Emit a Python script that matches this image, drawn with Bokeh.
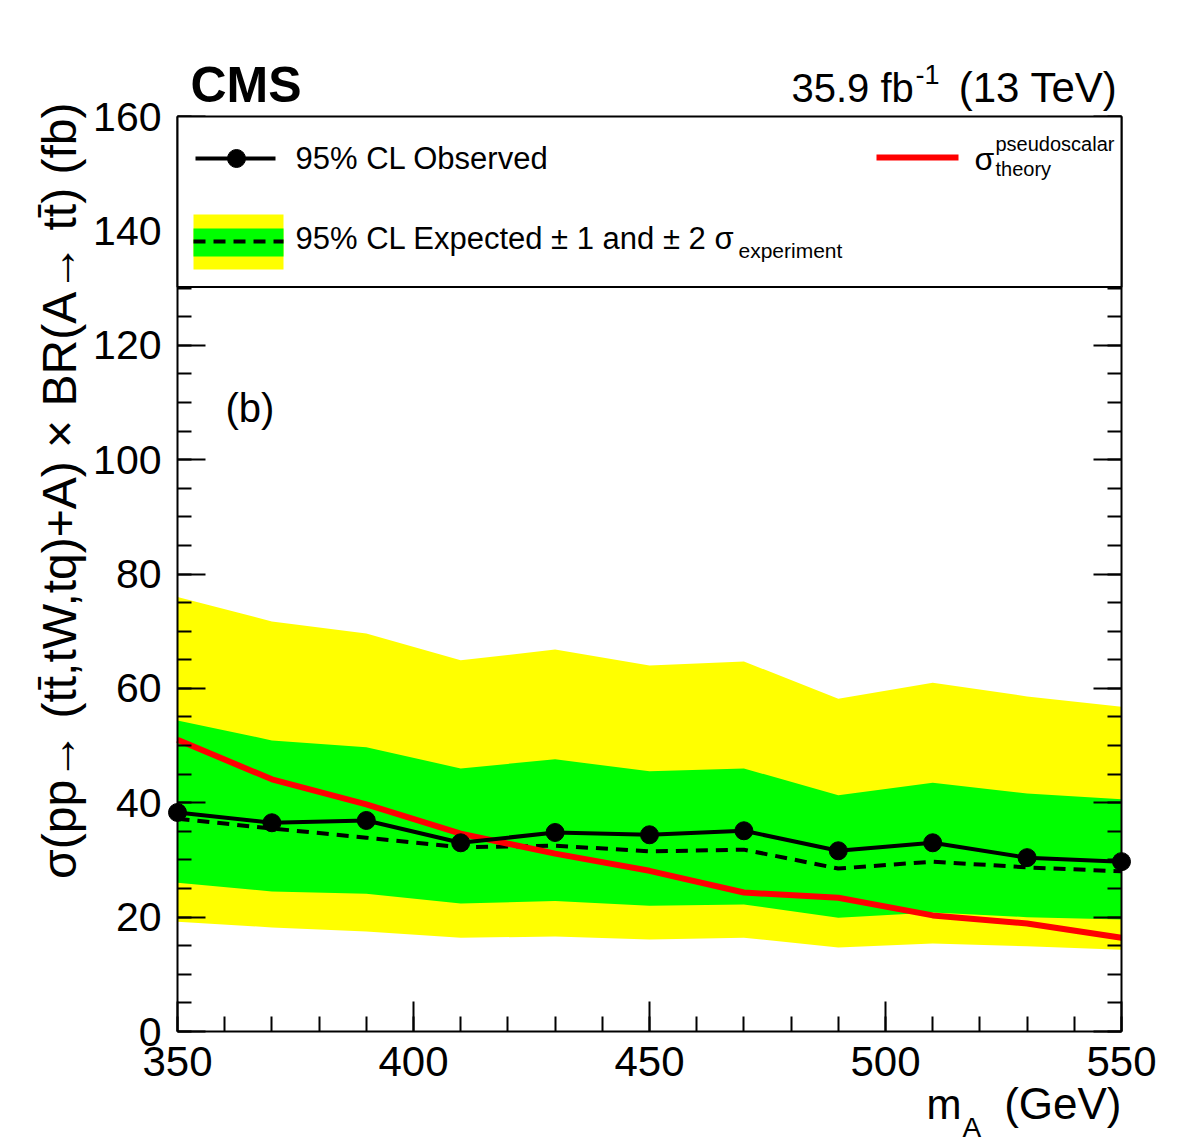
from math import pi

from bokeh.embed import file_html
from bokeh.resources import INLINE
from bokeh.plotting import figure
from bokeh.models import (BoxAnnotation, Label, LinearAxis, SingleIntervalTicker,
                          Range1d, ColumnDataSource)

# ---- limits on sigma x BR for the pseudoscalar A (fb) ----
mass = [350, 370, 390, 410, 430, 450, 470, 490, 510, 530, 550]
observed = [38.3, 36.5, 36.9, 33.0, 34.8, 34.4, 35.1, 31.6, 33.0, 30.4, 29.7]
expected = [37.2, 35.5, 33.9, 32.2, 32.5, 31.5, 31.8, 28.5, 29.7, 28.7, 28.0]
exp_m1 = [26.0, 24.5, 24.1, 22.4, 22.8, 22.0, 22.2, 19.9, 20.8, 20.0, 19.6]
exp_p1 = [54.4, 50.9, 49.7, 46.0, 47.6, 45.5, 46.0, 41.3, 43.5, 41.6, 40.6]
exp_m2 = [19.2, 18.2, 17.5, 16.4, 16.6, 16.1, 16.4, 14.7, 15.4, 14.9, 14.3]
exp_p2 = [76.0, 71.7, 69.6, 64.9, 66.8, 64.0, 64.7, 58.2, 61.0, 58.6, 56.8]
theory = [51.0, 44.1, 39.7, 34.6, 31.1, 28.1, 24.3, 23.4, 20.3, 18.9, 16.4]

X_MIN, X_MAX = 350, 550
Y_MIN, Y_MAX = 0, 160
LEGEND_FLOOR = 130.2

# canvas and the pixel box that holds the axes
W, H = 1182, 1146
BOX_L, BOX_R, BOX_T, BOX_B = 177, 1121, 116, 1031

FONT = "Liberation Sans"
YELLOW = "#ffff00"
GREEN = "#00ff00"
RED = "#ff0000"
BASELINE_SHIFT = 0.38  # em fraction to place Label text on its baseline


def fx(px):
    """Canvas pixel column -> data x."""
    return X_MIN + (px - BOX_L) * (X_MAX - X_MIN) / (BOX_R - BOX_L)


def fy(py):
    """Canvas pixel row -> data y."""
    return Y_MIN + (BOX_B - py) * (Y_MAX - Y_MIN) / (BOX_B - BOX_T)


# the frame spans the whole canvas; axes sit at fixed data locations
p = figure(width=W, height=H, output_backend="svg", toolbar_location=None,
           x_range=Range1d(fx(0), fx(W)), y_range=Range1d(fy(H), fy(0)),
           min_border=0, x_axis_location=None, y_axis_location=None)
p.grid.visible = False
p.outline_line_color = None
p.background_fill_color = "white"
p.border_fill_color = "white"

src = ColumnDataSource(dict(m=mass, obs=observed, exp=expected,
                            m1=exp_m1, p1=exp_p1, m2=exp_m2, p2=exp_p2,
                            th=theory))

# expected bands
p.varea(x="m", y1="m2", y2="p2", source=src, fill_color=YELLOW)
p.varea(x="m", y1="m1", y2="p1", source=src, fill_color=GREEN)
# expected median
p.line(x="m", y="exp", source=src, line_color="black", line_width=4,
       line_dash="12 8")
# theory
p.line(x="m", y="th", source=src, line_color=RED, line_width=6)
# observed
p.line(x="m", y="obs", source=src, line_color="black", line_width=4)
p.scatter(x="m", y="obs", source=src, size=18, marker="circle",
          fill_color="black", line_color="black")


def style_axis(ax, labels=True):
    ax.axis_line_width = 2
    ax.major_tick_line_width = 2
    ax.minor_tick_line_width = 2
    ax.major_tick_out = 0
    ax.minor_tick_out = 0
    ax.major_label_text_font = FONT
    ax.major_label_text_font_size = "41px"
    ax.major_label_text_color = "black" if labels else None


xaxis = LinearAxis(ticker=SingleIntervalTicker(interval=50, num_minor_ticks=5),
                   bounds=(X_MIN, X_MAX), fixed_location=Y_MIN)
style_axis(xaxis)
xaxis.major_label_text_font_size = "42px"
xaxis.major_tick_in = 30
xaxis.minor_tick_in = 15
xaxis.major_label_standoff = 15
p.add_layout(xaxis, "below")

yaxis = LinearAxis(ticker=SingleIntervalTicker(interval=20, num_minor_ticks=4),
                   bounds=(Y_MIN, Y_MAX), fixed_location=X_MIN)
style_axis(yaxis)
yaxis.major_tick_in = 28
yaxis.minor_tick_in = 14
yaxis.major_label_standoff = 16
p.add_layout(yaxis, "left")

raxis = LinearAxis(ticker=SingleIntervalTicker(interval=20, num_minor_ticks=4),
                   bounds=(Y_MIN, Y_MAX), fixed_location=X_MAX)
style_axis(raxis, labels=False)
raxis.major_tick_in = 28
raxis.minor_tick_in = 14
p.add_layout(raxis, "right")

# legend panel across the top of the axes box
p.add_layout(BoxAnnotation(left=X_MIN, right=X_MAX, bottom=LEGEND_FLOOR, top=Y_MAX,
                           fill_color="white", fill_alpha=1.0,
                           line_color="black", line_alpha=1.0, line_width=2,
                           level="annotation"))

# legend samples
p.line(x=[fx(195), fx(275)], y=[fy(158), fy(158)], line_color="black",
       line_width=4, level="overlay")
p.scatter(x=[fx(236)], y=[fy(158)], size=18, marker="circle",
          fill_color="black", line_color="black", level="overlay")
p.quad(left=[fx(193)], right=[fx(283)], bottom=[fy(269)], top=[fy(214)],
       fill_color=YELLOW, line_color=None, level="overlay")
p.quad(left=[fx(193)], right=[fx(283)], bottom=[fy(256)], top=[fy(228)],
       fill_color=GREEN, line_color=None, level="overlay")
p.line(x=[fx(193), fx(283)], y=[fy(241), fy(241)], line_color="black",
       line_width=4, line_dash="12 8", level="overlay")
p.line(x=[fx(876), fx(958)], y=[fy(157), fy(157)], line_color=RED,
       line_width=6, level="overlay")


def text(px, py, s, size, align="left", bold=False, rotated=False):
    shift = BASELINE_SHIFT * size
    if rotated:
        x, y, angle = fx(px - shift), fy(py), pi / 2
    else:
        x, y, angle = fx(px), fy(py - shift), 0.0
    lab = Label(x=x, y=y, text=s, text_font=FONT,
                text_font_size=f"{size}px", text_color="black",
                text_align=align, text_baseline="alphabetic",
                text_font_style="bold" if bold else "normal",
                angle=angle, level="overlay")
    p.add_layout(lab)


# legend text
text(295, 170, "95% CL Observed", 31)
text(295, 250, "95% CL Expected \u00b1 1 and \u00b1 2 \u03c3", 31)
text(738, 258, "experiment", 21)
text(974, 171, "\u03c3", 32)
text(995, 151, "pseudoscalar", 20)
text(995, 176, "theory", 20)

# headers
text(190, 103, "CMS", 50, bold=True)
text(791, 103, "35.9 fb", 40)
text(915, 84, "-1", 27)
text(1117, 103, "(13 TeV)", 42, align="right")

# panel tag
text(225, 423, "(b)", 40)

# axis titles
text(926, 1120, "m", 42)
text(962, 1138, "A", 28)
text(1121, 1120, "(GeV)", 44, align="right")
text(77, 102, "\u03c3(pp\u2192 (t\u0074\u0304,tW,tq)+A) \u00d7 BR(A\u2192 t\u0074\u0304) (fb)",
     48, align="right", rotated=True)

open("out.html", "w").write(file_html(p, INLINE))
